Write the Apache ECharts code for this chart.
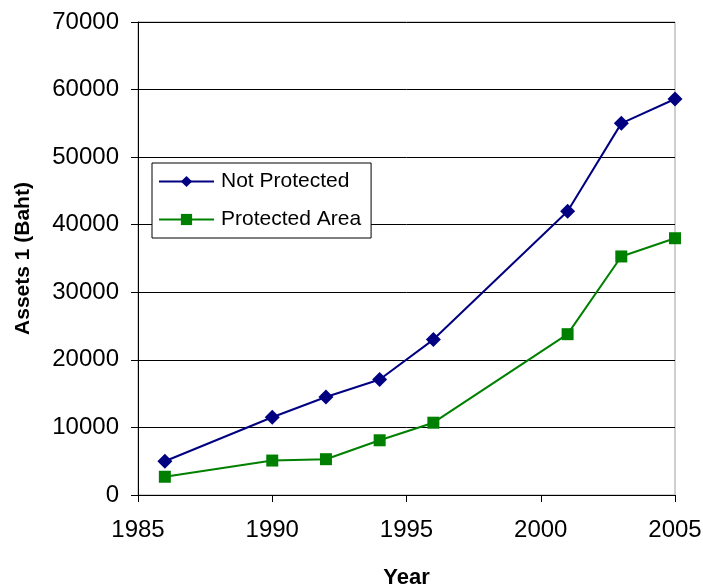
<!DOCTYPE html>
<html>
<head>
<meta charset="utf-8">
<script src="https://cdn.jsdelivr.net/npm/echarts@6/dist/echarts.min.js"></script>
<style>
  html, body { margin: 0; padding: 0; background: #fff; }
  #chart { width: 703px; height: 587px; }
</style>
</head>
<body>
<div id="chart"></div>
<script>
// Survey years and average assets per household (Baht)
const years = [1986, 1990, 1992, 1994, 1996, 2001, 2003, 2005];
const notProtected = [5000, 11500, 14500, 17100, 23000, 42000, 55000, 58600];
const protectedArea = [2700, 5100, 5300, 8100, 10700, 23800, 35300, 38000];
const seriesNames = ['Not Protected', 'Protected Area'];
const xTitle = 'Year';
const yTitle = 'Assets 1 (Baht)';

const pairs = (xs, ys) => xs.map((x, i) => [x, ys[i]]);
const font = 'Liberation Sans, Arial, sans-serif';
const plain = v => String(v);

const chart = echarts.init(document.getElementById('chart'), null, { renderer: 'canvas' });
chart.setOption({
  animation: false,
  backgroundColor: '#ffffff',
  grid: {
    left: 138, right: 28, top: 22, bottom: 92,
    containLabel: false, outerBoundsMode: 'none',
    show: true, borderColor: '#a0a0a0', borderWidth: 1, backgroundColor: 'transparent'
  },
  legend: {
    orient: 'vertical',
    left: 152, top: 163,
    backgroundColor: '#fff',
    borderColor: '#000', borderWidth: 1,
    padding: [8, 10, 8, 6],
    itemGap: 17,
    itemWidth: 55, itemHeight: 14,
    textStyle: { fontFamily: font, fontSize: 21, color: '#000', padding: [0, 0, 0, 2] },
    data: seriesNames
  },
  xAxis: {
    type: 'value', min: 1985, max: 2005, interval: 5,
    name: xTitle, nameLocation: 'middle', nameGap: 72,
    nameTextStyle: { fontFamily: font, fontSize: 22, fontWeight: 'bold', color: '#000' },
    axisLine: { show: true, lineStyle: { color: '#000', width: 1 } },
    axisTick: { show: true, length: 7, lineStyle: { color: '#000' } },
    axisLabel: { fontFamily: font, fontSize: 24, color: '#000', margin: 23, formatter: plain },
    splitLine: { show: false }
  },
  yAxis: {
    type: 'value', min: 0, max: 70000, interval: 10000,
    name: yTitle, nameLocation: 'middle', nameGap: 104, nameRotate: 90,
    nameTextStyle: { fontFamily: font, fontSize: 21, fontWeight: 'bold', color: '#000' },
    axisLine: { show: true, lineStyle: { color: '#000', width: 1 } },
    axisTick: { show: true, length: 7, lineStyle: { color: '#000' } },
    axisLabel: { fontFamily: font, fontSize: 24, color: '#000', margin: 19, formatter: plain },
    splitLine: { show: true, lineStyle: { color: '#000', width: 1 } }
  },
  series: [
    {
      name: seriesNames[0], type: 'line',
      data: pairs(years, notProtected),
      symbol: 'diamond', symbolSize: 15,
      lineStyle: { color: '#000080', width: 2 },
      itemStyle: { color: '#000080' }
    },
    {
      name: seriesNames[1], type: 'line',
      data: pairs(years, protectedArea),
      symbol: 'rect', symbolSize: 12,
      lineStyle: { color: '#008000', width: 2 },
      itemStyle: { color: '#008000' }
    }
  ]
});
</script>
</body>
</html>
